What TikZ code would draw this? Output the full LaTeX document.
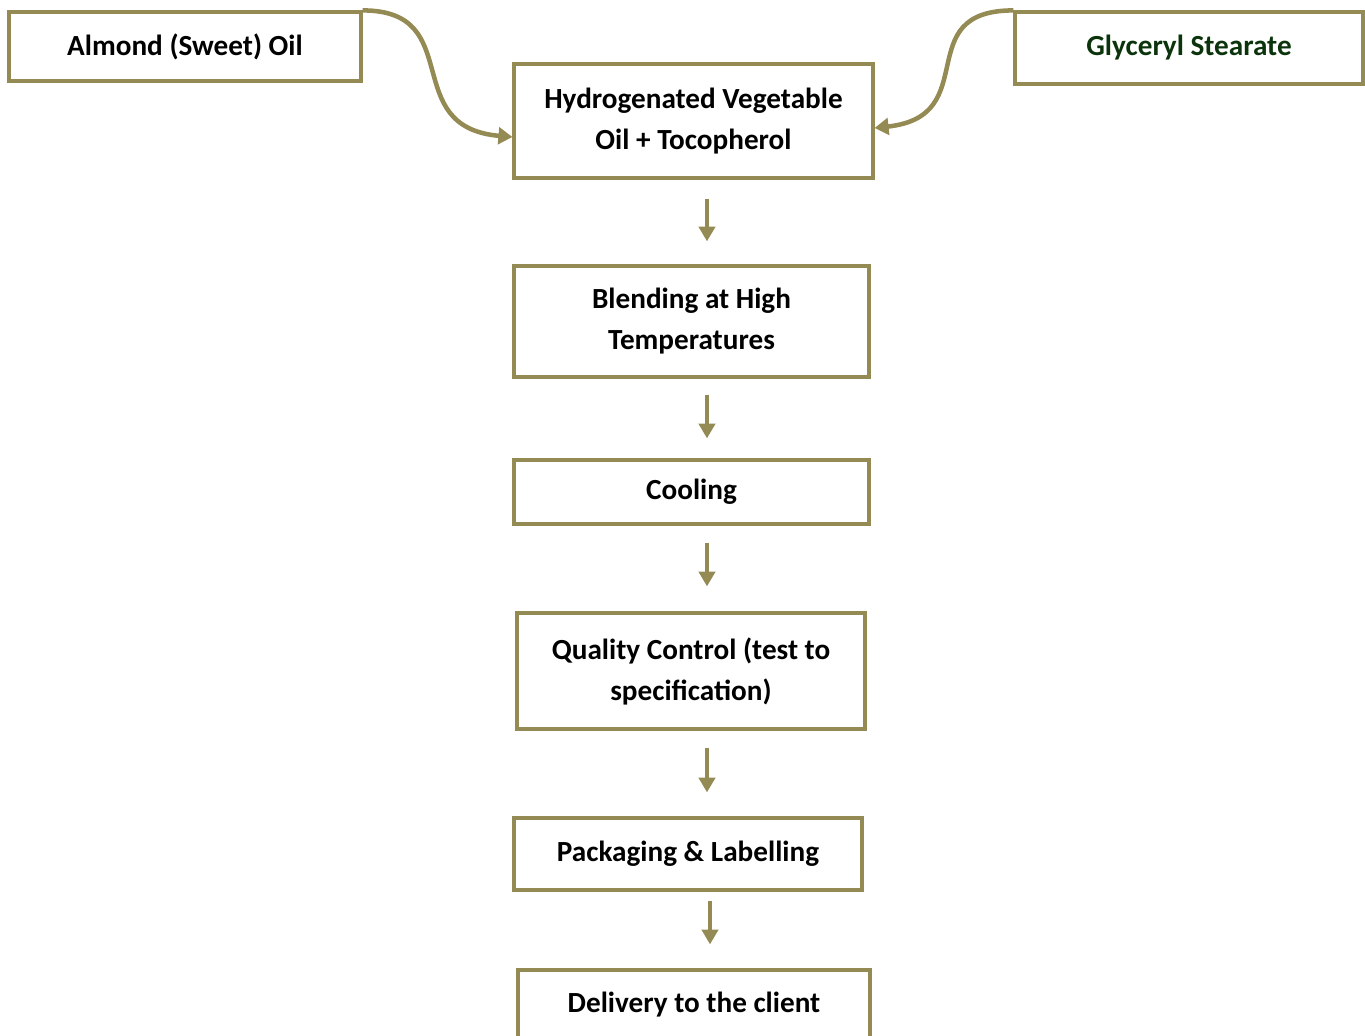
\documentclass[tikz,border=0pt]{standalone}
\usepackage{fontspec}
\setmainfont{Carlito}
\usetikzlibrary{arrows.meta}
\definecolor{boxline}{RGB}{148,138,84}
\definecolor{leafgreen}{RGB}{12,52,12}

\begin{document}
\begin{tikzpicture}[x=0.75pt,y=-0.75pt,
  stepbox/.style={draw=boxline, line width=2.4pt, align=center, inner sep=0pt,
    font=\bfseries\fontsize{21.9}{30.75}\selectfont},
  flow/.style={boxline, line width=3pt, -{Triangle[width=12pt,length=11pt]}},
  feed/.style={boxline, line width=3.4pt, -{Triangle[width=12.5pt,length=10.5pt]}}]
  \clip (0,0) rectangle (1365,1036);
  \useasboundingbox (0,0) rectangle (1365,1036);
  \coordinate (spine) at (707,0);
  \node[stepbox, minimum width=264pt, minimum height=51.75pt] (almond) at (185,46.5) {Almond (Sweet) Oil};
  \node[stepbox, minimum width=261pt, minimum height=54pt, text=leafgreen] (glyceryl) at (1189,48) {Glyceryl Stearate};
  \node[stepbox, minimum width=269.25pt, minimum height=85.5pt] (hydro) at (693.5,121) {Hydrogenated Vegetable\\Oil + Tocopherol};
  \node[stepbox, minimum width=266.25pt, minimum height=83.25pt] (blend) at (691.5,321.5) {Blending at High\\Temperatures};
  \node[stepbox, minimum width=266.25pt, minimum height=48pt] (cool) at (691.5,492) {Cooling};
  \node[stepbox, minimum width=261pt, minimum height=87pt] (qc) at (691,671) {Quality Control (test to\\specification)};
  \node[stepbox, minimum width=261pt, minimum height=54pt] (pack) at (688,854) {Packaging \& Labelling};
  \node[stepbox, minimum width=264pt, minimum height=52.5pt] (deliv) at (694,1005) {Delivery to the client};
  \draw[feed] (almond.north east) .. controls +(105,0) and +(-115,-10) .. ([yshift=-12pt]hydro.west);
  \draw[feed] (glyceryl.north west) .. controls +(-105,0) and +(110,-12) .. ([yshift=-5.25pt]hydro.east);
  \draw[flow, shorten <=14.25pt, shorten >=17.25pt] (hydro.south -| spine) -- (blend.north -| spine);
  \draw[flow, shorten <=12pt, shorten >=15pt] (blend.south -| spine) -- (cool.north -| spine);
  \draw[flow, shorten <=12.75pt, shorten >=18.75pt] (cool.south -| spine) -- (qc.north -| spine);
  \draw[flow, shorten <=12.75pt, shorten >=18pt] (qc.south -| spine) -- (pack.north -| spine);
  \draw[flow, shorten <=6.75pt, shorten >=18pt] ([xshift=2.25pt]pack.south -| spine) -- ([xshift=2.25pt]deliv.north -| spine);
\end{tikzpicture}
\end{document}
